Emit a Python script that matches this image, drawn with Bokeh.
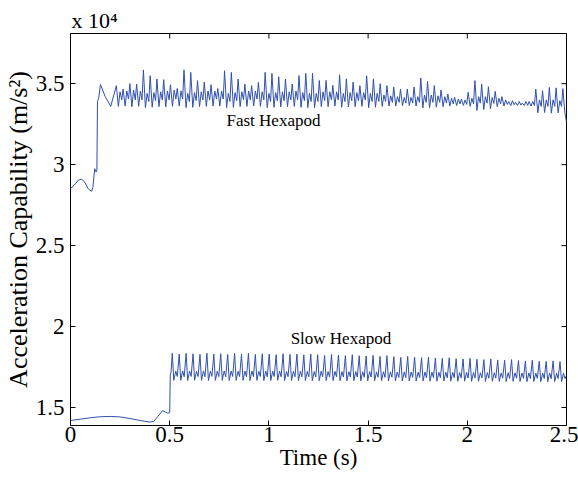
import math
from bokeh.plotting import figure
from bokeh.models import Range1d, FixedTicker, CustomJSTickFormatter, Label
from bokeh.embed import file_html
from bokeh.resources import INLINE

# ---- data (acceleration in units of 1e4 m/s^2) ----
x_ticks = [0, 0.5, 1, 1.5, 2, 2.5]
y_ticks = [1.5, 2, 2.5, 3, 3.5]
x_lim = [0, 2.5]
y_lim = [1.389, 3.81]

# Fast hexapod: start-up transient
fast_init_t = [0.0, 0.02, 0.04, 0.055, 0.07, 0.09, 0.106, 0.113, 0.122, 0.128, 0.133, 0.136, 0.142, 0.151, 0.175, 0.203]
fast_init_v = [2.852, 2.875, 2.905, 2.91, 2.895, 2.85, 2.835, 2.86, 2.975, 2.955, 2.96, 3.39, 3.41, 3.495, 3.42, 3.36]
fast_t0 = 0.231
fast_period = 0.0341
fast_peak = [
    3.488, 3.467, 3.500, 3.498, 3.585, 3.549, 3.529, 3.525, 3.494, 3.470,
    3.585, 3.570, 3.519, 3.510, 3.494, 3.470, 3.580, 3.570, 3.529, 3.498,
    3.488, 3.508, 3.570, 3.564, 3.543, 3.529, 3.498, 3.550, 3.564, 3.564,
    3.520, 3.520, 3.490, 3.555, 3.530, 3.510, 3.488, 3.549, 3.530, 3.500,
    3.488, 3.480, 3.467, 3.467, 3.480, 3.535, 3.514, 3.488, 3.461, 3.436,
    3.416, 3.405, 3.447, 3.519, 3.498, 3.481, 3.453, 3.420, 3.390, 3.385,
    3.380, 3.390, 3.467, 3.457, 3.477, 3.474, 3.470]
fast_trough = [
    3.360, 3.362, 3.358, 3.360, 3.352, 3.355, 3.358, 3.356, 3.360, 3.362,
    3.352, 3.354, 3.358, 3.360, 3.362, 3.362, 3.352, 3.354, 3.358, 3.360,
    3.362, 3.360, 3.352, 3.354, 3.356, 3.358, 3.360, 3.354, 3.352, 3.352,
    3.358, 3.358, 3.362, 3.354, 3.356, 3.358, 3.360, 3.352, 3.355, 3.360,
    3.362, 3.362, 3.365, 3.365, 3.362, 3.350, 3.352, 3.355, 3.358, 3.362,
    3.365, 3.366, 3.360, 3.335, 3.340, 3.345, 3.358, 3.362, 3.365, 3.366,
    3.366, 3.362, 3.320, 3.322, 3.318, 3.320, 3.320]
fast_bump = [
    3.450, 3.455, 3.460, 3.455, 3.440, 3.445, 3.450, 3.455, 3.460, 3.455,
    3.440, 3.445, 3.450, 3.455, 3.455, 3.455, 3.440, 3.445, 3.450, 3.455,
    3.455, 3.450, 3.440, 3.445, 3.450, 3.450, 3.455, 3.445, 3.440, 3.440,
    3.450, 3.450, 3.450, 3.440, 3.445, 3.445, 3.445, 3.440, 3.440, 3.430,
    3.425, 3.420, 3.415, 3.415, 3.420, 3.430, 3.430, 3.425, 3.420, 3.410,
    3.405, 3.400, 3.410, 3.420, 3.420, 3.415, 3.410, 3.400, 3.395, 3.390,
    3.390, 3.390, 3.400, 3.400, 3.400, 3.395, 3.390]
fast_dip = [
    3.400, 3.405, 3.400, 3.400, 3.390, 3.395, 3.400, 3.400, 3.405, 3.405,
    3.390, 3.395, 3.400, 3.400, 3.405, 3.405, 3.390, 3.395, 3.400, 3.400,
    3.405, 3.400, 3.390, 3.395, 3.395, 3.400, 3.400, 3.395, 3.390, 3.390,
    3.395, 3.400, 3.400, 3.390, 3.395, 3.395, 3.400, 3.390, 3.390, 3.390,
    3.385, 3.385, 3.380, 3.380, 3.385, 3.385, 3.385, 3.385, 3.380, 3.375,
    3.375, 3.372, 3.375, 3.380, 3.380, 3.378, 3.375, 3.372, 3.370, 3.368,
    3.366, 3.365, 3.360, 3.360, 3.360, 3.360, 3.360]
fast_end_t = 2.5
fast_end_v = 3.265

# Slow hexapod: start-up transient
slow_init_t = [0.0, 0.05, 0.1, 0.15, 0.2, 0.25, 0.3, 0.35, 0.4, 0.42, 0.44, 0.464, 0.478, 0.49, 0.5, 0.503, 0.507]
slow_init_v = [1.420, 1.428, 1.437, 1.443, 1.445, 1.442, 1.432, 1.420, 1.410, 1.415, 1.445, 1.480, 1.472, 1.465, 1.468, 1.70, 1.72]
slow_t0 = 0.513
slow_period = 0.0349
slow_peak = [
    1.835, 1.830, 1.835, 1.832, 1.828, 1.835, 1.830, 1.832, 1.828, 1.834,
    1.830, 1.835, 1.828, 1.832, 1.830, 1.826, 1.832, 1.828, 1.830, 1.825,
    1.830, 1.826, 1.822, 1.828, 1.824, 1.820, 1.826, 1.820, 1.818, 1.822,
    1.816, 1.820, 1.814, 1.810, 1.816, 1.810, 1.808, 1.812, 1.806, 1.804,
    1.808, 1.802, 1.800, 1.804, 1.798, 1.796, 1.800, 1.794, 1.792, 1.796,
    1.790, 1.788, 1.792, 1.786, 1.785, 1.788, 1.784]
slow_trough = [
    1.668, 1.668, 1.667, 1.668, 1.668, 1.667, 1.668, 1.668, 1.667, 1.668,
    1.668, 1.667, 1.668, 1.667, 1.667, 1.668, 1.667, 1.667, 1.666, 1.667,
    1.666, 1.666, 1.667, 1.666, 1.666, 1.665, 1.666, 1.665, 1.665, 1.666,
    1.665, 1.664, 1.665, 1.664, 1.664, 1.663, 1.664, 1.663, 1.663, 1.664,
    1.663, 1.662, 1.663, 1.662, 1.662, 1.661, 1.662, 1.661, 1.661, 1.662,
    1.661, 1.660, 1.661, 1.660, 1.660, 1.660, 1.660]
slow_bump = [
    1.725, 1.726, 1.725, 1.724, 1.726, 1.725, 1.724, 1.726, 1.725, 1.724,
    1.725, 1.726, 1.724, 1.725, 1.724, 1.725, 1.723, 1.724, 1.725, 1.723,
    1.722, 1.724, 1.722, 1.723, 1.722, 1.721, 1.722, 1.721, 1.722, 1.720,
    1.721, 1.720, 1.719, 1.720, 1.719, 1.718, 1.719, 1.718, 1.717, 1.718,
    1.717, 1.716, 1.717, 1.716, 1.715, 1.716, 1.715, 1.714, 1.715, 1.714,
    1.713, 1.714, 1.713, 1.712, 1.713, 1.712, 1.712]
slow_dip = [
    1.692, 1.690, 1.692, 1.691, 1.690, 1.692, 1.691, 1.690, 1.692, 1.691,
    1.690, 1.691, 1.692, 1.690, 1.691, 1.690, 1.691, 1.690, 1.689, 1.690,
    1.689, 1.690, 1.688, 1.689, 1.688, 1.689, 1.688, 1.687, 1.688, 1.687,
    1.686, 1.687, 1.686, 1.685, 1.686, 1.685, 1.684, 1.685, 1.684, 1.683,
    1.684, 1.683, 1.682, 1.683, 1.682, 1.681, 1.682, 1.681, 1.680, 1.681,
    1.680, 1.679, 1.680, 1.679, 1.678, 1.679, 1.678]
slow_end_t = 2.5
slow_end_v = 1.700

# ---- build line coordinates from the values above ----
def build(init_t, init_v, t0, period, fracs, cols, end_t, end_v):
    t = list(init_t)
    v = list(init_v)
    for k in range(len(cols[0])):
        tk = t0 + k * period
        for f, col in zip(fracs, cols):
            tt = tk + f * period
            if tt < end_t:
                t.append(tt)
                v.append(col[k])
    t.append(end_t)
    v.append(end_v)
    return t, v

fast_t, fast_v = build(fast_init_t, fast_init_v, fast_t0, fast_period, (0.0, 0.3, 0.55, 0.8),
                       (fast_peak, fast_trough, fast_bump, fast_dip), fast_end_t, fast_end_v)
slow_t, slow_v = build(slow_init_t, slow_init_v, slow_t0, slow_period, (0.0, 0.22, 0.5, 0.72),
                       (slow_peak, slow_trough, slow_bump, slow_dip), slow_end_t, slow_end_v)

FONT = "Liberation Serif"
LINE = "#3050B0"

p = figure(width=578, height=478, x_range=Range1d(*x_lim), y_range=Range1d(*y_lim),
           output_backend="svg", toolbar_location=None,
           min_border_left=69, min_border_top=33, min_border_right=12, min_border_bottom=53)
p.grid.visible = False
p.outline_line_color = "black"
p.outline_line_width = 1
p.background_fill_color = "white"
p.border_fill_color = "white"

# exponent label of the y axis, placed above the box at the left
p.title.text = "x 10\u2074"
p.title.align = "left"
p.title.text_font = FONT
p.title.text_font_size = "22px"
p.title.text_font_style = "normal"
p.title.text_color = "black"
p.title.offset = 1
p.title.standoff = 2

p.line(fast_t, fast_v, line_color=LINE, line_width=1)
p.line(slow_t, slow_v, line_color=LINE, line_width=1)

# MATLAB-style inward ticks on the top and right edges of the box
p.ray(x=x_ticks, y=[y_lim[1]] * len(x_ticks), length=5, length_units="screen",
      angle=-math.pi / 2, line_color="black", line_width=1)
p.ray(x=[x_lim[1]] * len(y_ticks), y=y_ticks, length=5, length_units="screen",
      angle=math.pi, line_color="black", line_width=1)

fmt = CustomJSTickFormatter(code="return tick.toString();")

def style_axis(ax, ticks):
    ax.ticker = FixedTicker(ticks=ticks)
    ax.formatter = fmt
    ax.major_tick_in = 5
    ax.major_tick_out = 0
    ax.minor_tick_line_color = None
    ax.axis_line_color = "black"
    ax.major_tick_line_color = "black"
    ax.major_label_text_font = FONT
    ax.major_label_text_color = "black"
    ax.major_label_text_font_size = "23px"
    ax.axis_label_text_font = FONT
    ax.axis_label_text_font_style = "normal"
    ax.axis_label_text_color = "black"
    ax.axis_label_text_font_size = "23px"

xa = p.xaxis[0]
style_axis(xa, x_ticks)
xa.axis_label = "Time (s)"
xa.major_label_standoff = 1
xa.axis_label_standoff = 0

ya = p.yaxis[0]
style_axis(ya, y_ticks)
ya.axis_label = "Acceleration Capability (m/s²)"
ya.axis_label_text_font_size = "26px"
ya.major_label_standoff = 6
ya.axis_label_standoff = 0

p.add_layout(Label(x=1.023, y=3.27, text="Fast Hexapod", text_font=FONT, text_font_size="17px",
                   text_align="center", text_baseline="middle", text_color="black"))
p.add_layout(Label(x=1.363, y=1.929, text="Slow Hexapod", text_font=FONT, text_font_size="17px",
                   text_align="center", text_baseline="middle", text_color="black"))

open("out.html", "w").write(file_html(p, INLINE))
